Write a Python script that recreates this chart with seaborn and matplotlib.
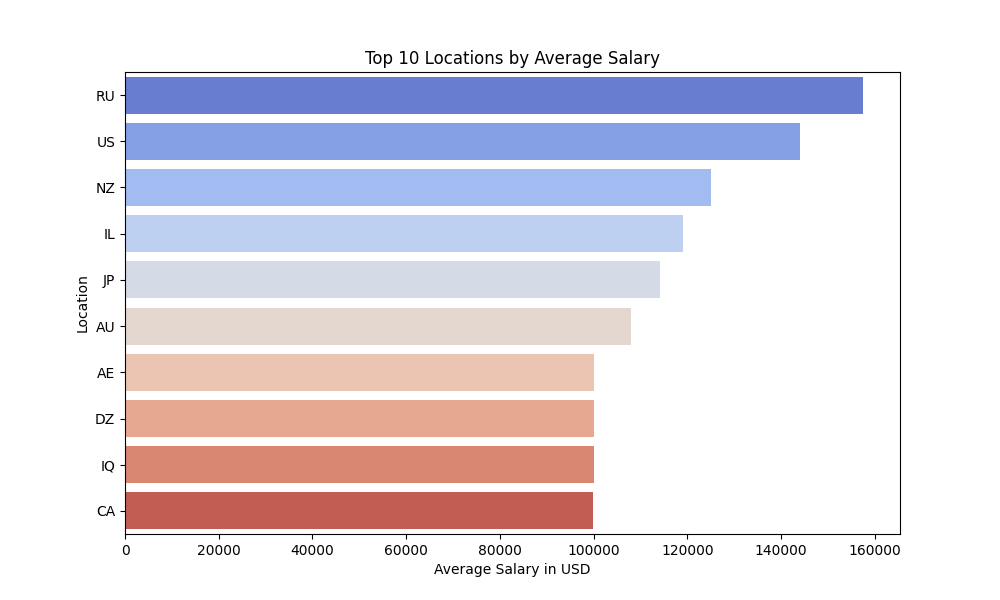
import pandas as pd
import seaborn as sns
import matplotlib
matplotlib.use("Agg")
import matplotlib.pyplot as plt

# Average salary per company location (top 10)
locations = ["RU", "US", "NZ", "IL", "JP", "AU", "AE", "DZ", "IQ", "CA"]
avg_salary = [157500, 144000, 125000, 119000, 114100, 108000, 100000, 100000, 100000, 99800]

df = pd.DataFrame({"location": locations, "salary": avg_salary})

plt.figure(figsize=(10, 6))
ax = sns.barplot(
    data=df,
    x="salary",
    y="location",
    hue="location",
    palette="coolwarm",
    legend=False,
)

plt.title("Top 10 Locations by Average Salary")
plt.xlabel("Average Salary in USD")
plt.ylabel("Location")
plt.savefig("out.png", dpi=100)
